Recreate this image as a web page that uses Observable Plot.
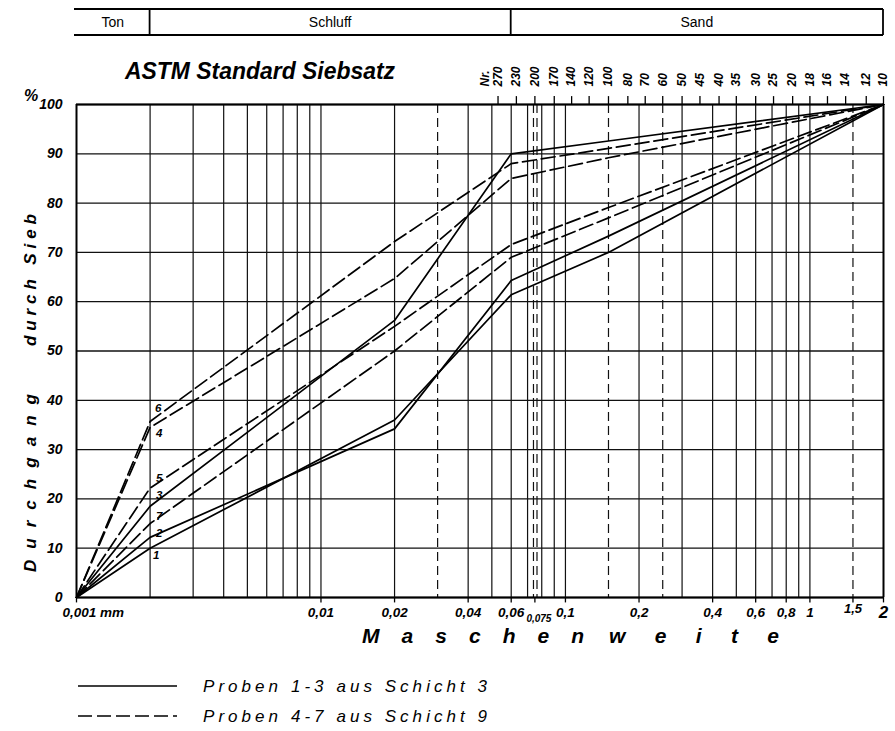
<!DOCTYPE html>
<html><head><meta charset="utf-8">
<script src="https://cdn.jsdelivr.net/npm/d3@7"></script>
<script src="https://cdn.jsdelivr.net/npm/@observablehq/plot@0.6"></script>
<style>
html,body{margin:0;padding:0;background:#fff;}
svg{display:block;}
</style></head><body><div id="chart"></div>
<script>
// ---- data ----
const sieveSizesMm = [0.001, 0.002, 0.02, 0.06, 0.15, 2];
const sample1 = [0, 10.0, 36.0, 61.4, 70.0, 100];
const sample2 = [0, 12.2, 34.2, 64.3, 73.3, 100];
const sample3 = [0, 18.5, 56.2, 90.0, 92.6, 100];
const sample4 = [0, 34.5, 64.7, 85.0, 89.2, 100];
const sample5 = [0, 22.2, 55.0, 71.6, 79.1, 100];
const sample6 = [0, 35.7, 72.2, 88.0, 91.1, 100];
const sample7 = [0, 15.0, 50.0, 69.0, 77.0, 100];
const sampleNames = ["1", "2", "3", "4", "5", "6", "7"];
const samples = [sample1, sample2, sample3, sample4, sample5, sample6, sample7];
const solidSamples = ["1", "2", "3"];

const yTicks = [0, 10, 20, 30, 40, 50, 60, 70, 80, 90, 100];
const gridSolidMm = [0.002, 0.003, 0.004, 0.005, 0.006, 0.007, 0.008, 0.009, 0.01,
  0.02, 0.04, 0.05, 0.06, 0.07, 0.08, 0.09, 0.1, 0.2, 0.3, 0.4, 0.5, 0.6, 0.7, 0.8, 0.9, 1];
const gridDashedMm = [0.03, 0.074, 0.0765, 0.15, 0.25, 1.5];
const xTickMm = [0.001, 0.01, 0.02, 0.04, 0.06, 0.075, 0.1, 0.2, 0.4, 0.6, 0.8, 1, 1.5, 2];
const xTickLabels = ["0,001 mm", "0,01", "0,02", "0,04", "0,06", "0,075", "0,1", "0,2", "0,4", "0,6", "0,8", "1", "1,5", "2"];
const astmNr = ["270", "230", "200", "170", "140", "120", "100", "80", "70", "60", "50", "45", "40", "35", "30", "25", "20", "18", "16", "14", "12", "10"];
const astmMm = [0.053, 0.063, 0.075, 0.090, 0.106, 0.125, 0.150, 0.180, 0.212, 0.250, 0.300, 0.355, 0.425, 0.500, 0.600, 0.710, 0.850, 1.00, 1.18, 1.40, 1.70, 2.00];
const bandBoundsMm = [0.001, 0.002, 0.06, 2];
const bandLabels = ["Ton", "Schluff", "Sand"];
const legendLabels = ["Proben 1-3 aus Schicht 3", "Proben 4-7 aus Schicht 9"];

// ---- table ----
const rows = [];
samples.forEach((vals, i) => vals.forEach((v, j) => rows.push({sample: sampleNames[i], mm: sieveSizesMm[j], pct: v})));
const solidRows = rows.filter(d => solidSamples.includes(d.sample));
const dashedRows = rows.filter(d => !solidSamples.includes(d.sample));

// ---- styles ----
const F = '"Liberation Sans Narrow","Liberation Sans",Arial,sans-serif';
const lab = {fontFamily: F, fontWeight: "bold", fontStyle: "italic", fill: "#000", stroke: "none"};
const DASH = "14,5";
const labelDy = [7, -4, -11, 6, -10, -13, -7];
const labelDx = [6, 9, 9, 9, 9, 8, 9];

const xTicks = xTickMm.map((mm, i) => ({mm, label: xTickLabels[i]}));
const special = new Set(["0,001 mm", "0,075", "1,5", "2"]);

const marks = [
  Plot.ruleY(yTicks, {stroke: "#111", strokeWidth: 1.3}),
  Plot.ruleX(gridSolidMm, {stroke: "#111", strokeWidth: 1.2}),
  Plot.ruleX(gridDashedMm, {stroke: "#111", strokeWidth: 1.2, strokeDasharray: "9,5"}),
  Plot.ruleY([0, 100], {stroke: "#000", strokeWidth: 2.2}),
  Plot.ruleX([0.001, 2], {stroke: "#000", strokeWidth: 2}),
  Plot.ruleX(xTickMm, {y1: 0, y2: -1.1, stroke: "#000", strokeWidth: 1.3}),
  Plot.ruleX(astmMm, {y1: 100, y2: 101.6, stroke: "#000", strokeWidth: 1.3}),
  Plot.line(solidRows, {x: "mm", y: "pct", z: "sample", stroke: "#000", strokeWidth: 1.7}),
  Plot.line(dashedRows, {x: "mm", y: "pct", z: "sample", stroke: "#000", strokeWidth: 1.7, strokeDasharray: DASH}),
  Plot.text(yTicks, {x: () => 0.001, y: d => d, text: d => String(d), textAnchor: "end", dx: -14, fontSize: 14, ...lab}),
  Plot.text(astmMm, {x: d => d, y: () => 100, text: (d, i) => astmNr[i], rotate: -90, textAnchor: "start", dy: -18, fontSize: 12, ...lab}),
  Plot.text(["Nr."], {x: () => 0.047, y: () => 100, text: d => d, rotate: -90, textAnchor: "start", dy: -18, fontSize: 12, ...lab}),
  Plot.text(xTicks.filter(d => !special.has(d.label)), {x: "mm", y: () => 0, text: "label", dy: 15, fontSize: 13.5, ...lab}),
  Plot.text(xTicks.filter(d => d.label === "0,001 mm"), {x: "mm", y: () => 0, text: "label", textAnchor: "start", dx: -14, dy: 15, fontSize: 13.5, ...lab}),
  Plot.text(xTicks.filter(d => d.label === "0,075"), {x: "mm", y: () => 0, text: "label", dx: 4, dy: 21, fontSize: 10, ...lab}),
  Plot.text(xTicks.filter(d => d.label === "1,5"), {x: "mm", y: () => 0, text: "label", dy: 11, fontSize: 13, ...lab}),
  Plot.text(xTicks.filter(d => d.label === "2"), {x: "mm", y: () => 0, text: "label", dy: 15, fontSize: 17, ...lab}),
  ...sampleNames.map((n, i) => Plot.text([n], {x: () => sieveSizesMm[1], y: () => samples[i][1], text: d => d, dx: labelDx[i], dy: labelDy[i], fontSize: 11.5, ...lab}))
];

const chart = Plot.plot({
  width: 895, height: 731,
  marginLeft: 76, marginRight: 12, marginTop: 104, marginBottom: 134,
  x: {type: "log", domain: [0.001, 2], axis: null},
  y: {domain: [0, 100], axis: null},
  style: {fontFamily: F, background: "white", color: "#000"},
  marks
});
document.getElementById("chart").append(chart);

// ---- decorations ----
const svg = d3.select(chart);
const xs = chart.scale("x");
const px = v => xs.apply(v);
const g = svg.append("g").attr("text-anchor", "start").attr("fill", "#000");
const txt = (x, y, s, size, opts = {}) => {
  const t = g.append("text").attr("x", x).attr("y", y).attr("font-family", F).attr("font-size", size)
    .attr("text-anchor", opts.anchor || "start").attr("font-weight", opts.weight || "bold")
    .attr("font-style", opts.style || "italic").attr("fill", "#000").text(s);
  if (opts.len) t.attr("textLength", opts.len).attr("lengthAdjust", opts.adjust || "spacing");
  if (opts.transform) t.attr("transform", opts.transform).attr("x", 0).attr("y", 0);
  return t;
};
const L = px(bandBoundsMm[0]), R = px(bandBoundsMm[bandBoundsMm.length - 1]);
const bandTop = 9, bandBot = 35;
[bandTop, bandBot].forEach(yy => g.append("line").attr("x1", L - 2).attr("x2", R).attr("y1", yy).attr("y2", yy).attr("stroke", "#000").attr("stroke-width", 1.8));
bandBoundsMm.slice(1).forEach(b => {
  g.append("line").attr("x1", px(b)).attr("x2", px(b)).attr("y1", bandTop).attr("y2", bandBot).attr("stroke", "#000").attr("stroke-width", 1.8);
});
bandLabels.forEach((t, i) => {
  txt((px(bandBoundsMm[i]) + px(bandBoundsMm[i + 1])) / 2, 27, t, 14, {anchor: "middle", weight: "normal", style: "normal"});
});
// title
txt(125, 79, "ASTM Standard Siebsatz", 23, {len: 270, adjust: "spacingAndGlyphs"});
// percent sign
txt(24, 101, "%", 16);
// y title
txt(0, 0, "Durchgang", 17, {len: 178, transform: "translate(36,572) rotate(-90)"});
txt(0, 0, "durch Sieb", 17, {len: 132, transform: "translate(36,346) rotate(-90)"});
// x title
txt(362, 643, "Maschen", 21, {len: 222});
txt(609, 643, "weite", 21, {len: 170});
// legend
const legY = [686, 716];
legendLabels.forEach((t, i) => {
  const ln = g.append("line").attr("x1", 78).attr("x2", 177).attr("y1", legY[i]).attr("y2", legY[i]).attr("stroke", "#000").attr("stroke-width", 1.7);
  if (i === 1) ln.attr("stroke-dasharray", DASH);
  txt(203, legY[i] + 6, t, 17, {weight: "normal", len: 284});
});
</script></body></html>
